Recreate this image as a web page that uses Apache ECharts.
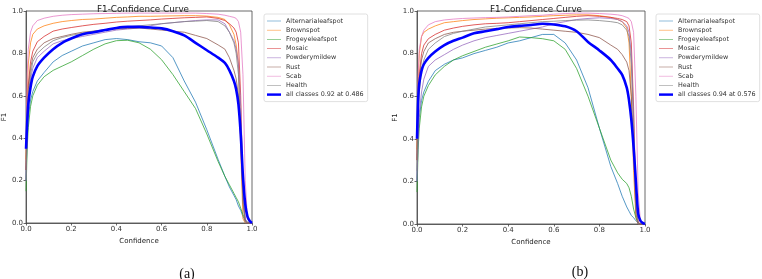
<!DOCTYPE html>
<html>
<head>
<meta charset="utf-8">
<script src="https://cdn.jsdelivr.net/npm/echarts@6/dist/echarts.min.js"></script>
<style>html,body{margin:0;padding:0;background:#fff}#c{width:762px;height:279px}</style>
</head>
<body>
<div id="c"></div>
<script>
// Confidence thresholds (x values shared by all curves)
const conf = [0,0.005,0.01,0.02,0.03,0.05,0.08,0.12,0.16,0.2,0.25,0.3,0.35,0.4,0.45,0.5,0.55,0.6,0.65,0.7,0.75,0.8,0.85,0.88,0.9,0.92,0.93,0.94,0.95,0.96,0.97,0.98,0.99,1.0];
const classNames = ['Alternarialeafspot','Brownspot','Frogeyeleafspot','Mosaic','Powderymildew','Rust','Scab','Health'];
const tickLabels = ['0.0','0.2','0.4','0.6','0.8','1.0'];

// Panel (a)
const a_Alternarialeafspot = [0.2,0.4,0.5,0.58,0.62,0.67,0.71,0.76,0.79,0.81,0.835,0.85,0.865,0.87,0.865,0.855,0.85,0.835,0.78,0.67,0.57,0.44,0.30,0.22,0.17,0.13,0.11,0.08,0.06,0.03,0.01,0,0,0];
const a_Brownspot = [0.3,0.6,0.75,0.85,0.89,0.915,0.93,0.942,0.95,0.955,0.96,0.962,0.966,0.97,0.972,0.975,0.975,0.976,0.977,0.978,0.978,0.976,0.97,0.96,0.935,0.89,0.84,0.75,0.35,0.02,0,0,0,0];
const a_Frogeyeleafspot = [0.15,0.35,0.45,0.55,0.6,0.65,0.69,0.72,0.74,0.76,0.79,0.82,0.845,0.86,0.862,0.85,0.82,0.77,0.70,0.62,0.54,0.42,0.29,0.22,0.18,0.14,0.12,0.1,0.07,0.04,0.015,0.005,0,0];
const a_Mosaic = [0.25,0.5,0.65,0.76,0.81,0.855,0.88,0.905,0.915,0.922,0.93,0.937,0.942,0.948,0.952,0.955,0.958,0.962,0.965,0.968,0.97,0.972,0.965,0.955,0.94,0.92,0.9,0.85,0.6,0.15,0.01,0,0,0];
const a_Powderymildew = [0.2,0.45,0.58,0.68,0.73,0.78,0.81,0.845,0.86,0.87,0.88,0.89,0.9,0.91,0.915,0.92,0.93,0.94,0.945,0.95,0.955,0.958,0.958,0.94,0.9,0.86,0.82,0.75,0.55,0.2,0.02,0,0,0];
const a_Rust = [0.25,0.5,0.63,0.73,0.78,0.82,0.85,0.87,0.88,0.89,0.9,0.905,0.91,0.915,0.918,0.92,0.915,0.91,0.905,0.9,0.885,0.87,0.84,0.82,0.78,0.72,0.68,0.6,0.4,0.1,0.01,0,0,0];
const a_Scab = [0.35,0.7,0.82,0.9,0.93,0.955,0.966,0.975,0.98,0.983,0.985,0.987,0.988,0.989,0.99,0.99,0.99,0.99,0.99,0.99,0.99,0.988,0.985,0.98,0.975,0.97,0.965,0.95,0.9,0.7,0.2,0.02,0,0];
const a_Health = [0.2,0.45,0.6,0.7,0.76,0.8,0.83,0.86,0.875,0.885,0.895,0.905,0.912,0.92,0.925,0.93,0.935,0.94,0.945,0.95,0.952,0.955,0.95,0.93,0.9,0.85,0.8,0.7,0.45,0.1,0,0,0,0];
const a_all = [0.35,0.47,0.56,0.64,0.69,0.74,0.78,0.82,0.85,0.87,0.89,0.90,0.91,0.92,0.925,0.925,0.922,0.918,0.905,0.885,0.85,0.815,0.78,0.755,0.72,0.67,0.63,0.56,0.42,0.22,0.09,0.03,0.01,0];
const a_allName = 'all classes 0.92 at 0.486';

// Panel (b)
const b_Alternarialeafspot = [0.2,0.4,0.5,0.58,0.62,0.67,0.72,0.75,0.77,0.78,0.8,0.815,0.83,0.85,0.86,0.875,0.89,0.89,0.85,0.77,0.64,0.45,0.27,0.19,0.13,0.08,0.06,0.04,0.03,0.015,0.005,0,0,0];
const b_Brownspot = [0.35,0.65,0.8,0.88,0.9,0.915,0.93,0.945,0.95,0.955,0.96,0.963,0.966,0.968,0.97,0.972,0.975,0.978,0.98,0.982,0.982,0.978,0.97,0.96,0.95,0.92,0.85,0.6,0.25,0.03,0,0,0,0];
const b_Frogeyeleafspot = [0.15,0.35,0.45,0.55,0.6,0.65,0.7,0.74,0.77,0.79,0.81,0.83,0.845,0.86,0.878,0.875,0.87,0.86,0.82,0.73,0.6,0.45,0.3,0.24,0.21,0.19,0.17,0.13,0.07,0.03,0.005,0,0,0];
const b_Mosaic = [0.3,0.55,0.7,0.8,0.84,0.87,0.89,0.91,0.92,0.928,0.935,0.94,0.942,0.945,0.95,0.955,0.96,0.965,0.97,0.975,0.978,0.975,0.97,0.965,0.96,0.95,0.93,0.85,0.55,0.12,0.01,0,0,0];
const b_Powderymildew = [0.2,0.4,0.52,0.62,0.68,0.74,0.77,0.795,0.82,0.84,0.86,0.875,0.885,0.895,0.905,0.915,0.925,0.94,0.95,0.96,0.965,0.968,0.965,0.96,0.95,0.93,0.9,0.8,0.5,0.1,0,0,0,0];
const b_Rust = [0.3,0.55,0.68,0.77,0.81,0.85,0.87,0.89,0.9,0.905,0.91,0.915,0.918,0.92,0.922,0.92,0.915,0.91,0.905,0.9,0.89,0.875,0.84,0.82,0.795,0.76,0.72,0.6,0.35,0.05,0,0,0,0];
const b_Scab = [0.4,0.7,0.82,0.88,0.91,0.935,0.95,0.958,0.962,0.965,0.967,0.969,0.97,0.972,0.975,0.978,0.98,0.985,0.988,0.99,0.99,0.988,0.985,0.982,0.978,0.97,0.965,0.95,0.9,0.6,0.15,0.01,0,0];
const b_Health = [0.25,0.5,0.62,0.72,0.77,0.82,0.85,0.88,0.895,0.905,0.915,0.925,0.93,0.935,0.94,0.945,0.95,0.952,0.955,0.957,0.958,0.955,0.95,0.945,0.935,0.91,0.88,0.75,0.45,0.08,0,0,0,0];
const b_all = [0.4,0.58,0.66,0.72,0.75,0.78,0.81,0.84,0.86,0.875,0.895,0.905,0.915,0.925,0.93,0.934,0.94,0.937,0.928,0.905,0.855,0.815,0.77,0.73,0.70,0.64,0.58,0.49,0.36,0.2,0.05,0.015,0.005,0];
const b_allName = 'all classes 0.94 at 0.576';

const classColors = ['#1f77b4','#ff7f0e','#2ca02c','#d62728','#9467bd','#8c564b','#e377c2','#7f7f7f'];
const panelA = [a_Alternarialeafspot,a_Brownspot,a_Frogeyeleafspot,a_Mosaic,a_Powderymildew,a_Rust,a_Scab,a_Health];
const panelB = [b_Alternarialeafspot,b_Brownspot,b_Frogeyeleafspot,b_Mosaic,b_Powderymildew,b_Rust,b_Scab,b_Health];

const FONT = 'DejaVu Sans';
const pair = arr => arr.map((v,i)=>[conf[i], v]);

const grids = [
  {left:24, top:11, width:228, height:212},
  {left:417, top:11, width:228, height:213}
];

function xAxis(gi){
  return {type:'value', gridIndex:gi, min:0, max:1, interval:0.2,
    name:'Confidence', nameLocation:'middle', nameGap:14,
    nameTextStyle:{fontFamily:FONT, fontSize:7, color:'#222'},
    axisLine:{show:true, onZero:false, lineStyle:{color:'#444', width:0.8}},
    axisTick:{show:true, length:2.5, lineStyle:{color:'#444', width:0.8}},
    axisLabel:{fontFamily:FONT, fontSize:7, color:'#333', margin:3,
      formatter:v=>tickLabels[Math.round(v*5)]},
    splitLine:{show:false}};
}
function yAxis(gi){
  return {type:'value', gridIndex:gi, min:0, max:1, interval:0.2,
    name:'F1', nameLocation:'middle', nameGap:16, nameRotate:90,
    nameTextStyle:{fontFamily:FONT, fontSize:7, color:'#222'},
    axisLine:{show:true, onZero:false, lineStyle:{color:'#444', width:0.8}},
    axisTick:{show:true, length:2.5, lineStyle:{color:'#444', width:0.8}},
    axisLabel:{fontFamily:FONT, fontSize:7, color:'#333', margin:3,
      formatter:v=>tickLabels[Math.round(v*5)]},
    splitLine:{show:false}};
}

const series = [];
function addPanel(gi, data, allData, allName){
  data.forEach((arr,k)=>{
    series.push({name:classNames[k], type:'line', xAxisIndex:gi, yAxisIndex:gi,
      data:pair(arr), symbol:'none', smooth:false, silent:true,
      lineStyle:{color:classColors[k], width:0.9, opacity:0.85},
      itemStyle:{color:classColors[k]}});
  });
  series.push({name:allName, type:'line', xAxisIndex:gi, yAxisIndex:gi,
    data:pair(allData), symbol:'none', smooth:0.3, silent:true,
    lineStyle:{color:'#0000ff', width:2.6}, itemStyle:{color:'#0000ff'}, z:5});
}
addPanel(0, panelA, a_all, a_allName);
addPanel(1, panelB, b_all, b_allName);

const thinIcon = 'path://M0,0 H40 V2 H0 Z';
const boldIcon = 'path://M0,0 H40 V7 H0 Z';
function legend(left, allName){
  const items = classNames.map((n,k)=>({name:n, icon:thinIcon, itemStyle:{color:classColors[k], opacity:0.7}}))
    .concat([{name:allName, icon:boldIcon, itemStyle:{color:'#0000ff'}}]);
  return {orient:'vertical', left:left, top:14, itemWidth:14, itemHeight:7, itemGap:3.2,
    padding:[4,4,4,3], borderColor:'#d8d8d8', borderWidth:0.8, borderRadius:2,
    textStyle:{fontFamily:FONT, fontSize:6.4, color:'#333', padding:[0,0,0,0]},
    data:items, selectedMode:false};
}

const chart = echarts.init(document.getElementById('c'), null, {renderer:'canvas'});
chart.setOption({
  animation:false,
  backgroundColor:'#fff',
  title:[
    {text:'F1-Confidence Curve', left:138, top:0, textAlign:'center',
      textStyle:{fontFamily:FONT, fontSize:8.8, fontWeight:'normal', color:'#222'}},
    {text:'F1-Confidence Curve', left:531, top:0, textAlign:'center',
      textStyle:{fontFamily:FONT, fontSize:8.8, fontWeight:'normal', color:'#222'}},
    {text:'(a)', left:182, top:262, textAlign:'center',
      textStyle:{fontFamily:'Liberation Serif', fontSize:14, fontWeight:'normal', color:'#111'}},
    {text:'(b)', left:575, top:260, textAlign:'center',
      textStyle:{fontFamily:'Liberation Serif', fontSize:14, fontWeight:'normal', color:'#111'}}
  ],
  grid:grids.map(g=>Object.assign({show:true, borderColor:'#444', borderWidth:0.8, backgroundColor:'#fff'}, g)),
  xAxis:[xAxis(0), xAxis(1)],
  yAxis:[yAxis(0), yAxis(1)],
  legend:[legend(264, a_allName), legend(656, b_allName)],
  series:series
});
</script>
</body>
</html>
